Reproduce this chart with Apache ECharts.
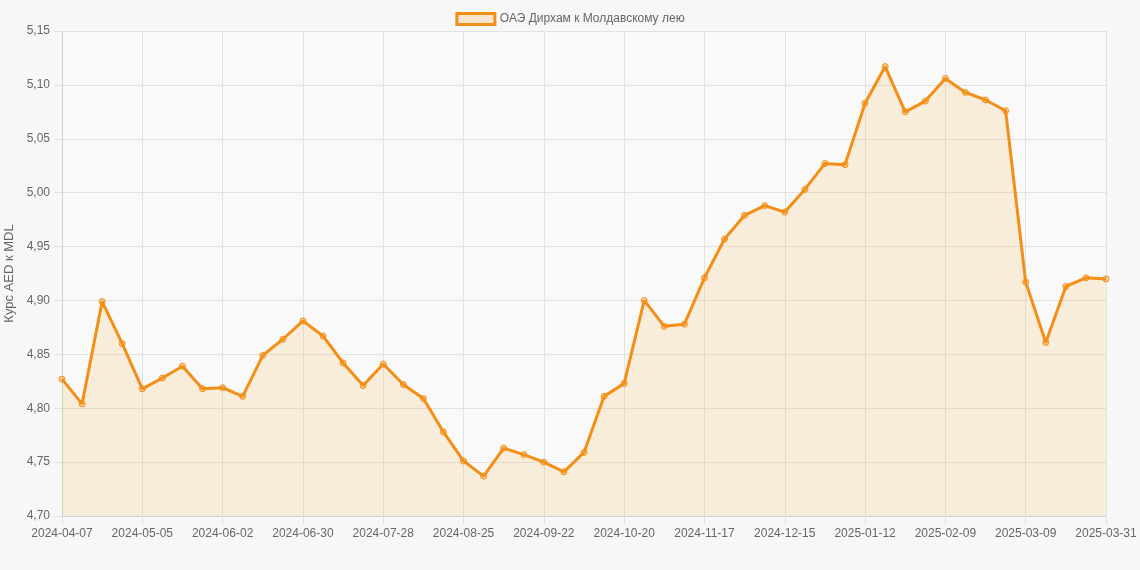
<!DOCTYPE html>
<html>
<head>
<meta charset="utf-8">
<script src="https://cdn.jsdelivr.net/npm/echarts@6/dist/echarts.min.js"></script>
<style>
html,body{margin:0;padding:0;background:#f7f7f7;}
#chart{width:1140px;height:570px;}
</style>
</head>
<body>
<div id="chart"></div>
<script>
const categories = [
"2024-04-07","2024-04-14","2024-04-21","2024-04-28","2024-05-05","2024-05-12","2024-05-19","2024-05-26",
"2024-06-02","2024-06-09","2024-06-16","2024-06-23","2024-06-30","2024-07-07","2024-07-14","2024-07-21",
"2024-07-28","2024-08-04","2024-08-11","2024-08-18","2024-08-25","2024-09-01","2024-09-08","2024-09-15",
"2024-09-22","2024-09-29","2024-10-06","2024-10-13","2024-10-20","2024-10-27","2024-11-03","2024-11-10",
"2024-11-17","2024-11-24","2024-12-01","2024-12-08","2024-12-15","2024-12-22","2024-12-29","2025-01-05",
"2025-01-12","2025-01-19","2025-01-26","2025-02-02","2025-02-09","2025-02-16","2025-02-23","2025-03-02",
"2025-03-09","2025-03-16","2025-03-23","2025-03-30","2025-03-31"];
const rates = [
4.827,4.804,4.899,4.860,4.818,4.828,4.839,4.818,
4.819,4.811,4.849,4.864,4.881,4.867,4.842,4.821,
4.841,4.822,4.809,4.778,4.751,4.737,4.763,4.757,
4.750,4.741,4.759,4.811,4.823,4.900,4.876,4.878,
4.921,4.957,4.979,4.988,4.982,5.003,5.027,5.026,
5.083,5.117,5.075,5.085,5.106,5.093,5.086,5.076,
4.917,4.861,4.913,4.921,4.920];
const seriesName = "ОАЭ Дирхам к Молдавскому лею";
const yAxisName = "Курс AED к MDL";

const chart = echarts.init(document.getElementById('chart'));
const orange = 'rgb(243,143,22)';
const fill = 'rgba(245,165,40,0.2)';
const gridColor = '#e2e2e2';
chart.setOption({
  backgroundColor: '#f7f7f7',
  animation: false,
  textStyle: {fontFamily: 'Arial, "Liberation Sans", sans-serif'},
  legend: {
    top: 7, left: 'center',
    itemWidth: 38, itemHeight: 11, itemGap: 10,
    icon: 'rect',
    textStyle: {color: '#666', fontSize: 12},
    data: [{name: seriesName, itemStyle: {color: fill, borderColor: orange, borderWidth: 3}}]
  },
  grid: {left: 62, right: 34, top: 31, bottom: 54, show: true, backgroundColor: '#f9f9f9', borderWidth: 0, outerBoundsMode: 'none', containLabel: false},
  xAxis: {
    type: 'category', data: categories, boundaryGap: false,
    axisLine: {show: true, lineStyle: {color: '#d0d0d0'}},
    axisTick: {show: true, interval: 3, length: 8, lineStyle: {color: gridColor}},
    axisLabel: {interval: 3, color: '#666', fontSize: 12, margin: 12},
    splitLine: {show: true, interval: 3, lineStyle: {color: gridColor}}
  },
  yAxis: {
    type: 'value', min: 4.70, max: 5.15, interval: 0.05,
    name: yAxisName, nameLocation: 'middle', nameGap: 43, nameRotate: 90,
    nameTextStyle: {color: '#666', fontSize: 13},
    axisLine: {show: true, lineStyle: {color: '#d0d0d0'}},
    axisTick: {show: true, length: 8, lineStyle: {color: gridColor}},
    axisLabel: {color: '#666', fontSize: 12, margin: 12, formatter: v => v.toFixed(2).replace('.', ',')},
    splitLine: {show: true, lineStyle: {color: gridColor}}
  },
  series: [{
    name: seriesName, type: 'line', data: rates,
    symbol: 'circle', symbolSize: 6, showAllSymbol: true,
    lineStyle: {color: orange, width: 3},
    itemStyle: {color: 'rgba(243,143,22,0.35)', borderColor: orange, borderWidth: 1},
    areaStyle: {color: fill}
  }]
});
</script>
</body>
</html>
